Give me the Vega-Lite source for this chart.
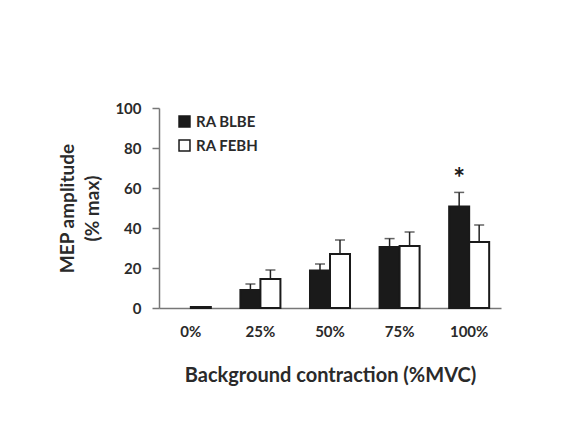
{
  "$schema": "https://vega.github.io/schema/vega-lite/v6.json",
  "autosize": "none",
  "width": 342,
  "height": 200,
  "padding": {"left": 159, "top": 108, "right": 79, "bottom": 130},
  "background": "white",
  "config": {
    "font": "Lato",
    "view": {"stroke": null},
    "axis": {"labelColor": "#2a2a2a", "titleColor": "#2a2a2a", "grid": false},
    "axisY": {
      "labelOverlap": false,
      "tickSize": 7,
      "tickColor": "#777",
      "domainColor": "#777",
      "domainWidth": 1.5,
      "tickWidth": 1.5,
      "labelFont": "Lato",
      "labelFontWeight": "bold",
      "labelFontSize": 15,
      "labelPadding": 11,
      "titleFont": "Lato",
      "titleFontWeight": "bold",
      "titleFontSize": 19,
      "titleLineHeight": 25,
      "titlePadding": 12
    }
  },
  "data": {
    "values": [
      {"contraction": "0%", "group": "RA BLBE", "value": 0, "upper": 0, "sig": ""},
      {"contraction": "0%", "group": "RA FEBH", "value": 0.5, "upper": 0.5, "sig": ""},
      {"contraction": "25%", "group": "RA BLBE", "value": 9, "upper": 12, "sig": ""},
      {"contraction": "25%", "group": "RA FEBH", "value": 14.5, "upper": 19, "sig": ""},
      {"contraction": "50%", "group": "RA BLBE", "value": 18.7, "upper": 22, "sig": ""},
      {"contraction": "50%", "group": "RA FEBH", "value": 27, "upper": 34, "sig": ""},
      {"contraction": "75%", "group": "RA BLBE", "value": 30.5, "upper": 34.7, "sig": ""},
      {"contraction": "75%", "group": "RA FEBH", "value": 31, "upper": 38, "sig": ""},
      {"contraction": "100%", "group": "RA BLBE", "value": 50.7, "upper": 57.8, "sig": "*"},
      {"contraction": "100%", "group": "RA FEBH", "value": 33, "upper": 41.5, "sig": ""}
    ]
  },
  "encoding": {
    "x": {
      "field": "contraction",
      "type": "nominal",
      "sort": ["0%", "25%", "50%", "75%", "100%"],
      "scale": {"paddingInner": 0.425, "paddingOuter": 0.17},
      "axis": {
        "title": "Background contraction (%MVC)",
        "labelAngle": 0,
        "ticks": false,
        "domainColor": "#777",
        "domainWidth": 1.5,
        "labelFont": "Lato",
        "labelFontWeight": "bold",
        "labelFontSize": 15,
        "labelPadding": 16,
        "titleFont": "Lato",
        "titleFontWeight": "bold",
        "titleFontSize": 20,
        "titlePadding": 26
      }
    },
    "xOffset": {"field": "group", "type": "nominal", "sort": ["RA BLBE", "RA FEBH"], "scale": {"paddingInner": 0}},
    "y": {
      "field": "value",
      "type": "quantitative",
      "scale": {"domain": [0, 100], "nice": false},
      "axis": {"title": ["MEP amplitude", "(% max)"], "values": [0, 20, 40, 60, 80, 100]}
    }
  },
  "layer": [
    {
      "mark": {"type": "rule", "color": "#222", "strokeWidth": 1.5},
      "encoding": {
        "y2": {"field": "upper"}
      }
    },
    {
      "mark": {"type": "tick", "color": "#222", "thickness": 1.5, "size": 10},
      "transform": [{"filter": "datum.upper > datum.value"}],
      "encoding": {
        "y": {"field": "upper", "type": "quantitative", "axis": {"title": ["MEP amplitude", "(% max)"], "values": [0, 20, 40, 60, 80, 100]}}
      }
    },
    {
      "mark": {"type": "bar", "stroke": "#1a1a1a", "strokeWidth": 2},
      "transform": [{"filter": "datum.value > 0"}],
      "encoding": {
        "fill": {
          "field": "group",
          "type": "nominal",
          "scale": {"domain": ["RA BLBE", "RA FEBH"], "range": ["#1a1a1a", "#ffffff"]},
          "legend": {
            "title": null,
            "orient": "none",
            "legendX": 18,
            "legendY": 6,
            "symbolType": "square",
            "symbolSize": 120,
            "symbolStrokeColor": "#1a1a1a",
            "symbolStrokeWidth": 1.5,
            "labelFont": "Lato",
            "labelFontWeight": "bold",
            "labelFontSize": 15,
            "labelColor": "#2a2a2a",
            "rowPadding": 7,
            "labelOffset": 4
          }
        }
      }
    },
    {
      "mark": {"type": "text", "dy": 2, "baseline": "bottom", "fontSize": 28, "fontWeight": "bold", "color": "#1a1a1a"},
      "transform": [{"filter": "datum.sig != ''"}],
      "encoding": {
        "y": {"field": "upper", "type": "quantitative", "axis": {"title": ["MEP amplitude", "(% max)"], "values": [0, 20, 40, 60, 80, 100]}},
        "text": {"field": "sig"}
      }
    }
  ]
}
